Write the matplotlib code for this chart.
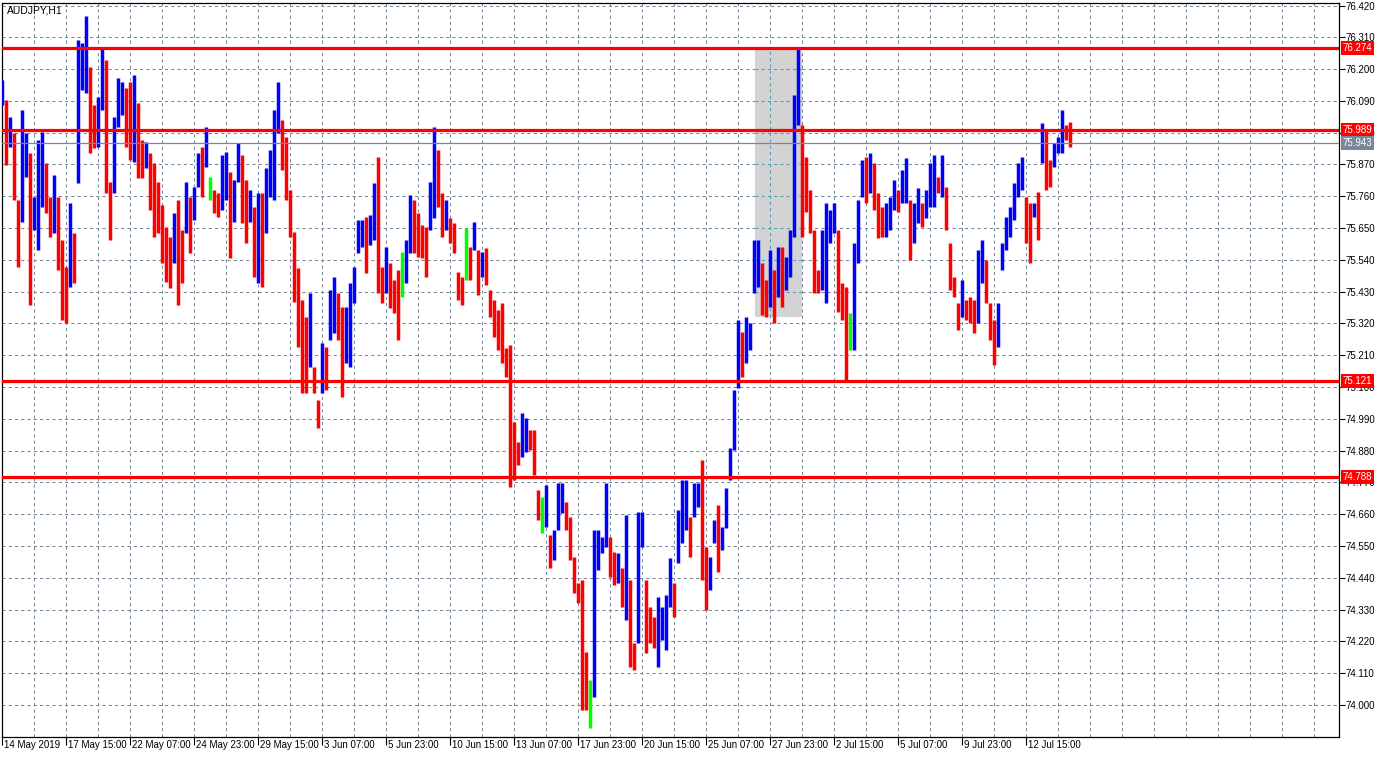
import numpy as np
import matplotlib
matplotlib.use('Agg')
import matplotlib.pyplot as plt
from matplotlib.patches import Rectangle

plt.rcParams['font.family'] = ['Liberation Sans', 'DejaVu Sans']

SYMBOL = "AUDJPY,H1"
BAR_STEP = 4  # each mark covers 4 hourly bars

# high / low of each 4-hour group, left to right
highs = [
    76.162, 76.093, 76.034, 75.979, 75.747, 76.058, 75.979, 75.910, 75.757, 75.955,
    75.982, 75.875, 75.757, 75.834, 75.757, 75.609, 75.515, 75.737, 75.633, 76.301,
    76.290, 76.384, 76.207, 76.076, 76.103, 76.276, 76.231, 75.809, 76.034, 76.169,
    76.155, 76.134, 76.155, 76.180, 76.083, 75.955, 75.948, 75.910, 75.875, 75.809,
    75.730, 75.654, 75.619, 75.702, 75.747, 75.643, 75.809, 75.757, 75.792, 75.910,
    75.930, 75.999, 75.827, 75.782, 75.771, 75.903, 75.913, 75.844, 75.816, 75.944,
    75.903, 75.816, 75.782, 75.723, 75.771, 75.771, 75.858, 75.920, 76.058, 76.155,
    76.024, 75.965, 75.782, 75.636, 75.512, 75.401, 75.342, 75.425, 75.169, 75.055,
    75.252, 75.238, 75.436, 75.481, 75.425, 75.377, 75.377, 75.460, 75.515, 75.678,
    75.678, 75.688, 75.695, 75.806, 75.896, 75.515, 75.584, 75.529, 75.470, 75.505,
    75.567, 75.609, 75.764, 75.747, 75.702, 75.661, 75.654, 75.809, 75.999, 75.920,
    75.771, 75.747, 75.685, 75.667, 75.498, 75.481, 75.650, 75.584, 75.671, 75.574,
    75.567, 75.581, 75.436, 75.401, 75.366, 75.391, 75.235, 75.245, 74.979, 74.910,
    75.010, 74.993, 74.951, 74.951, 74.744, 74.719, 74.761, 74.588, 74.605, 74.768,
    74.768, 74.702, 74.650, 74.512, 74.422, 74.432, 74.183, 74.086, 74.605, 74.605,
    74.581, 74.768, 74.581, 74.529, 74.526, 74.474, 74.657, 74.432, 74.214, 74.667,
    74.667, 74.432, 74.339, 74.304, 74.373, 74.339, 74.380, 74.508, 74.422, 74.674,
    74.778, 74.778, 74.650, 74.768, 74.768, 74.847, 74.546, 74.512, 74.640, 74.692,
    74.616, 74.751, 74.889, 75.090, 75.332, 75.290, 75.342, 75.321, 75.609, 75.609,
    75.529, 75.470, 75.574, 75.505, 75.584, 75.584, 75.550, 75.643, 76.110, 76.273,
    76.006, 75.896, 75.782, 75.643, 75.505, 75.643, 75.737, 75.712, 75.737, 75.643,
    75.460, 75.446, 75.356, 75.598, 75.747, 75.885, 75.896, 75.910, 75.875, 75.771,
    75.723, 75.737, 75.757, 75.816, 75.782, 75.851, 75.892, 75.747, 75.737, 75.789,
    75.737, 75.782, 75.875, 75.903, 75.827, 75.903, 75.792, 75.598, 75.481, 75.391,
    75.470, 75.401, 75.411, 75.401, 75.574, 75.609, 75.539, 75.391, 75.332, 75.391,
    75.598, 75.688, 75.723, 75.806, 75.875, 75.896, 75.757, 75.737, 75.737, 75.775,
    76.013, 75.989, 75.885, 75.944, 75.965, 76.058, 76.006, 76.017,
]
lows = [
    76.076, 75.868, 75.930, 75.747, 75.515, 75.671, 75.827, 75.384, 75.643, 75.574,
    75.723, 75.702, 75.619, 75.633, 75.505, 75.332, 75.321, 75.446, 75.460, 75.806,
    76.128, 76.117, 75.910, 75.927, 75.930, 76.058, 75.771, 75.609, 75.771, 75.999,
    76.041, 75.930, 75.885, 75.878, 75.823, 75.823, 75.858, 75.712, 75.619, 75.633,
    75.529, 75.463, 75.443, 75.529, 75.384, 75.460, 75.633, 75.564, 75.678, 75.792,
    75.757, 75.861, 75.747, 75.702, 75.688, 75.712, 75.747, 75.546, 75.671, 75.809,
    75.667, 75.598, 75.671, 75.481, 75.460, 75.446, 75.633, 75.757, 75.747, 75.979,
    75.851, 75.747, 75.619, 75.394, 75.238, 75.079, 75.079, 75.169, 75.079, 74.958,
    75.079, 75.090, 75.263, 75.287, 75.263, 75.065, 75.183, 75.169, 75.391, 75.564,
    75.584, 75.494, 75.591, 75.609, 75.425, 75.391, 75.425, 75.373, 75.356, 75.263,
    75.411, 75.460, 75.564, 75.564, 75.550, 75.546, 75.481, 75.643, 75.685, 75.723,
    75.619, 75.643, 75.598, 75.564, 75.401, 75.384, 75.470, 75.470, 75.574, 75.418,
    75.481, 75.453, 75.342, 75.273, 75.228, 75.183, 75.135, 74.754, 74.778, 74.830,
    74.858, 74.875, 74.882, 74.796, 74.640, 74.595, 74.616, 74.474, 74.501, 74.605,
    74.664, 74.605, 74.501, 74.387, 74.353, 73.982, 73.982, 73.920, 74.027, 74.467,
    74.526, 74.546, 74.443, 74.415, 74.422, 74.339, 74.294, 74.131, 74.121, 74.214,
    74.546, 74.180, 74.214, 74.197, 74.131, 74.225, 74.190, 74.339, 74.304, 74.491,
    74.560, 74.605, 74.512, 74.650, 74.685, 74.432, 74.329, 74.398, 74.560, 74.460,
    74.536, 74.612, 74.778, 74.882, 75.097, 75.135, 75.183, 75.228, 75.425, 75.446,
    75.349, 75.342, 75.377, 75.321, 75.411, 75.377, 75.436, 75.481, 75.619, 76.006,
    75.619, 75.705, 75.633, 75.425, 75.425, 75.436, 75.391, 75.598, 75.633, 75.359,
    75.332, 75.124, 75.228, 75.228, 75.529, 75.757, 75.737, 75.771, 75.712, 75.616,
    75.619, 75.619, 75.643, 75.712, 75.705, 75.737, 75.737, 75.539, 75.598, 75.667,
    75.654, 75.685, 75.723, 75.723, 75.771, 75.757, 75.643, 75.436, 75.411, 75.297,
    75.342, 75.332, 75.321, 75.287, 75.321, 75.460, 75.391, 75.263, 75.176, 75.238,
    75.505, 75.574, 75.619, 75.678, 75.757, 75.782, 75.598, 75.529, 75.688, 75.609,
    75.875, 75.782, 75.792, 75.861, 75.910, 75.910, 75.955, 75.930,
]
# groups drawn in the platform's "doji" green
green_groups = [52, 100, 116, 135, 147, 212]

levels = [76.274, 75.989, 75.121, 74.788]
bid = 75.943
zone_hours = (752.7, 799.7)
zone_prices = (75.341, 76.274)

time_labels = ['14 May 2019', '17 May 15:00', '22 May 07:00', '24 May 23:00',
               '29 May 15:00', '3 Jun 07:00', '5 Jun 23:00', '10 Jun 15:00',
               '13 Jun 07:00', '17 Jun 23:00', '20 Jun 15:00', '25 Jun 07:00',
               '27 Jun 23:00', '2 Jul 15:00', '5 Jul 07:00', '9 Jul 23:00',
               '12 Jul 15:00']
label_every = 64  # hours between time labels
price_ticks = np.round(np.arange(74.0, 76.421, 0.11), 3)

GRID = '#778899'
ZONE_GRID = '#4f9fb0'
DASH = (0, (3, 3))

fig = plt.figure(figsize=(13.86, 7.58), dpi=100)
ax = fig.add_axes([2.3 / 1386, 21.3 / 758, 1336.4 / 1386, 734.0 / 758])
ax.set_xlim(0, 1336.4)
ax.set_ylim(73.8903, 76.4297)

# grid
vgrid = np.arange(32, 1336, 32)
for p in price_ticks:
    ax.axhline(p, color=GRID, lw=0.75, ls=DASH, zorder=1)
for t in vgrid:
    ax.axvline(t, color=GRID, lw=0.75, ls=DASH, zorder=1)

# highlighted zone, grid shows through it in a teal tint
ax.add_patch(Rectangle((zone_hours[0], zone_prices[0]), zone_hours[1] - zone_hours[0],
                       zone_prices[1] - zone_prices[0], fc='#d3d3d3', ec='none', zorder=1.2))
in_t = [t for t in vgrid if zone_hours[0] < t < zone_hours[1]]
in_p = [p for p in price_ticks if zone_prices[0] < p < zone_prices[1]]
ax.vlines(in_t, zone_prices[0], zone_prices[1], colors=ZONE_GRID, lw=0.75,
          linestyles=DASH, zorder=1.3)
ax.hlines(in_p, zone_hours[0], zone_hours[1], colors=ZONE_GRID, lw=0.75,
          linestyles=DASH, zorder=1.3)

# price bars
hi = np.array(highs)
lo = np.array(lows)
mid = (hi + lo) / 2
xs = np.arange(len(hi)) * BAR_STEP
cols = ['#0000ff']
for i in range(1, len(mid)):
    cols.append('#0000ff' if mid[i] >= mid[i - 1] else '#ff0000')
for g in green_groups:
    cols[g] = '#00ff00'
ax.vlines(xs, lo, hi, colors=cols, linewidth=2.5, zorder=3)

# levels and bid line
for lv in levels:
    ax.axhline(lv, color='#ff0000', lw=2.3, zorder=4)
    ax.annotate(f'{lv:.3f}', xy=(1, lv), xycoords=('axes fraction', 'data'),
                xytext=(4, 0), textcoords='offset pixels', ha='left', va='center',
                color='white', fontsize=7, annotation_clip=False, zorder=6,
                bbox=dict(boxstyle='square,pad=0.2', fc='#ff0000', ec='none'))
ax.axhline(bid, color=GRID, lw=0.9, zorder=4)
ax.annotate(f'{bid:.3f}', xy=(1, bid), xycoords=('axes fraction', 'data'),
            xytext=(4, 0), textcoords='offset pixels', ha='left', va='center',
            color='white', fontsize=7, annotation_clip=False, zorder=6,
            bbox=dict(boxstyle='square,pad=0.2', fc=GRID, ec='none'))

# axes
ax.yaxis.tick_right()
ax.set_yticks(price_ticks)
ax.set_yticklabels([f'{p:.3f}' for p in price_ticks])
ax.tick_params(axis='y', direction='out', length=4, width=0.8, pad=1, labelsize=7)
ax.set_xticks(np.arange(len(time_labels)) * label_every)
ax.set_xticklabels([])
ax.tick_params(axis='x', direction='out', length=6, width=0.8)
for i, lab in enumerate(time_labels):
    ax.annotate(lab, xy=(i * label_every, 0), xycoords=('data', 'axes fraction'),
                xytext=(2, -3), textcoords='offset pixels', ha='left', va='top',
                fontsize=7, annotation_clip=False)
for s in ax.spines.values():
    s.set_color('black')
    s.set_linewidth(0.9)

ax.annotate(SYMBOL, xy=(0, 1), xycoords='axes fraction', xytext=(5, -3),
            textcoords='offset pixels', ha='left', va='top', fontsize=7.5)

fig.savefig('out.png', dpi=100)
